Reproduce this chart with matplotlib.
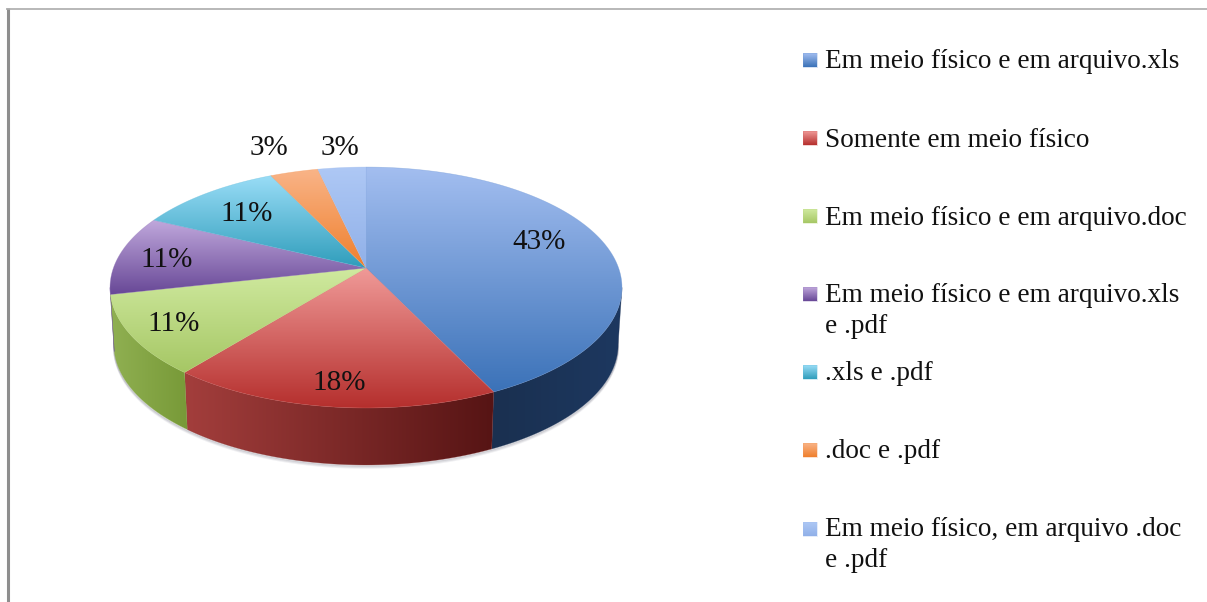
import matplotlib
matplotlib.use('Agg')
import matplotlib.pyplot as plt
import numpy as np
from matplotlib.colors import LinearSegmentedColormap
from matplotlib.patches import Polygon

# dados
categorias = ['Em meio físico e em arquivo.xls', 'Somente em meio físico',
              'Em meio físico e em arquivo.doc', 'Em meio físico e em arquivo.xls\ne .pdf',
              '.xls e .pdf', '.doc e .pdf', 'Em meio físico, em arquivo .doc\ne .pdf']
valores = [42.9, 17.9, 10.7, 10.7, 10.7, 3.55, 3.55]
rotulos = ['43%', '18%', '11%', '11%', '11%', '3%', '3%']

# cores: topo claro, topo escuro, parede esquerda, parede direita
cor_topo = [('#A3BEF0', '#3B72B8'), ('#F09A98', '#B52F2D'), ('#D0EAA0', '#A6C765'),
            ('#C0A8DC', '#674796'), ('#9ADDF7', '#2F9DBB'), ('#F9B488', '#EF7F2C'),
            ('#AEC8F5', '#90B0E8')]
cor_parede = [('#1A3050', '#1D3860'), ('#A33E3C', '#561414'), ('#90B052', '#789A38'),
              ('#674796', '#674796'), ('#2F9DBB', '#2F9DBB'), ('#EF7F2C', '#EF7F2C'),
              ('#90B0E8', '#90B0E8')]

pos_rotulos = [(539, 242), (339, 383), (174, 324), (167, 260), (247, 214), (269, 148), (340, 148)]
leg_quad_y = [53, 131, 209, 287, 365, 443, 522]
leg_base_y = [68, 147, 225, 302, 380, 458, 536]

CX, CY = 366, 268
A, B, K = 252.6, 117.3, 0.162
ALTURA = 57
ESCALA_BASE = 0.985
FONTE = ['Liberation Serif', 'DejaVu Serif']


def projetar(theta, dy=0.0, escala=1.0):
    den = 1 + K * np.cos(theta)
    return CX + escala * A * np.sin(theta) / den, CY - B * np.cos(theta) / den + dy


def gradiente(ax, pts, c1, c2, vertical=True, z=2):
    cmap = LinearSegmentedColormap.from_list('g', [c1, c2])
    grad = np.linspace(0, 1, 256)
    grad = grad[:, None] if vertical else grad[None, :]
    x0, y0 = pts.min(axis=0)
    x1, y1 = pts.max(axis=0)
    patch = Polygon(pts, closed=True, fc='none', ec='none', transform=ax.transData)
    ax.add_patch(patch)
    im = ax.imshow(grad, cmap=cmap, extent=(x0, x1, y1, y0), aspect='auto', zorder=z,
                   interpolation='bilinear', vmin=0, vmax=1)
    im.set_clip_path(patch)
    # contorno fino para suavizar o recorte
    ax.add_patch(Polygon(pts, closed=True, fc='none', ec=cmap(0.5), lw=0.4, alpha=0.5, zorder=z))


fig, ax = plt.subplots(figsize=(12.07, 6.02), dpi=100)
ax.set_position([0, 0, 1, 1])
ax.axis('off')

# moldura
ax.plot([7.5, 7.5], [8, 602], color='#8E8E8E', lw=2.2, solid_capstyle='butt')
ax.plot([6, 1207], [9, 9], color='#ABABAB', lw=1.2, solid_capstyle='butt')

# sombra
t_sombra = np.radians(np.linspace(90, 270, 200))
for i, al in zip([3, 2, 1], [0.10, 0.15, 0.25]):
    xs, ys = projetar(t_sombra, ALTURA + i, ESCALA_BASE)
    ax.plot(xs, ys, color='#707080', lw=1.2, alpha=al, zorder=1)

limites = np.cumsum([0] + valores) / sum(valores) * 2 * np.pi

# paredes
t_min, t_max = np.radians(99.3), np.radians(260.7)
for i in range(len(valores)):
    a, b = max(limites[i], t_min), min(limites[i + 1], t_max)
    if b <= a:
        continue
    t = np.linspace(a, b, 120)
    xs, ys = projetar(t)
    xb, yb = projetar(t[::-1], ALTURA, ESCALA_BASE)
    pts = np.column_stack([np.r_[xs, xb], np.r_[ys, yb]])
    c_esq, c_dir = cor_parede[i]
    gradiente(ax, pts, c_esq, c_dir, vertical=False, z=2)

# topo
for i in range(len(valores)):
    t = np.linspace(limites[i], limites[i + 1], 200)
    xs, ys = projetar(t)
    pts = np.column_stack([np.r_[CX, xs], np.r_[CY, ys]])
    gradiente(ax, pts, cor_topo[i][0], cor_topo[i][1], z=3)

for rot, (x, y) in zip(rotulos, pos_rotulos):
    ax.text(x, y, rot, ha='center', va='center', fontsize=21, family=FONTE, color='#111111', zorder=5)

# legenda
for i, nome in enumerate(categorias):
    y = leg_quad_y[i]
    pts = np.array([[803, y], [817, y], [817, y + 14], [803, y + 14]], dtype=float)
    gradiente(ax, pts, cor_topo[i][0], cor_topo[i][1], z=3)
    for j, linha in enumerate(nome.split('\n')):
        ax.text(825, leg_base_y[i] + 31 * j, linha, ha='left', va='baseline', fontsize=19.65,
                family=FONTE, color='#111111', zorder=5)

ax.set_xlim(0, 1207)
ax.set_ylim(602, 0)
fig.savefig('out.png', dpi=100, facecolor='white')
